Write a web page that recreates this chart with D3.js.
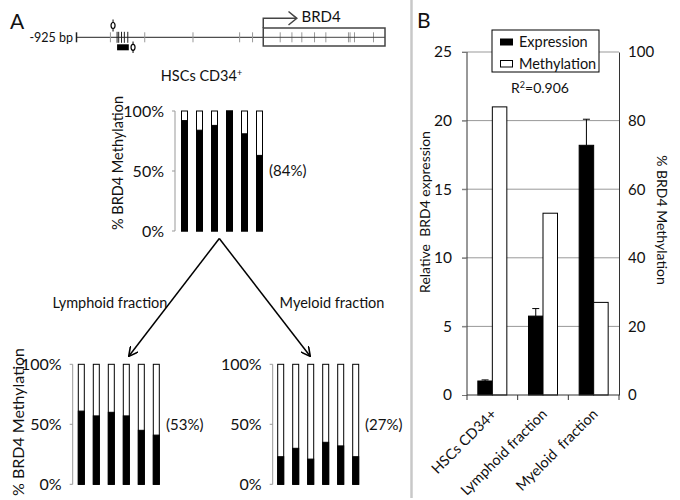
<!DOCTYPE html>
<html><head><meta charset="utf-8">
<script src="https://cdn.jsdelivr.net/npm/d3@7"></script>
<style>
body{margin:0;background:#fff;}
svg{display:block;font-family:Lato,"Open Sans",sans-serif;fill:#111;}
</style></head>
<body><svg id="c" width="680" height="500"></svg>
<script>
// ---------- data ----------
const hscMeth = [92, 84, 88, 100, 81, 63];
const lymphMeth = [61, 57, 60, 57, 45, 41];
const myeloMeth = [23, 30, 21, 35, 32, 23];
const pctTicks = [0, 50, 100];
const categories = ["HSCs CD34+", "Lymphoid fraction", "Myeloid  fraction"];
const expression = [1.02, 5.75, 18.2];
const expressionErr = [0.08, 0.55, 1.9];
const methylation = [84, 53, 27];
const leftTicks = [0, 5, 10, 15, 20, 25];
const rightTicks = [0, 20, 40, 60, 80, 100];
// gene map (bp relative to TSS)
const cpgGray = [-757, -587, -348, -117, -53, 84, 142, 191, 254, 310, 422, 430, 452, 546];
const cpgBlack = [-724, -716, -702, -688, -671];
const amplicon = [-724, -666];
const primers = [-744, -645];
const geneExtent = [-925, 0, 603];

const svg = d3.select("#c");

// ---------- panel letters ----------
svg.append("text").attr("x", 10).attr("y", 29).attr("font-size", 21).text("A");
svg.append("text").attr("x", 417).attr("y", 28).attr("font-size", 21).text("B");

// separator
svg.append("line").attr("x1", 411.5).attr("x2", 411.5).attr("y1", 0).attr("y2", 498)
  .attr("stroke", "#c8c8c8").attr("stroke-width", 2.5);

// ---------- gene map ----------
const gx = d3.scaleLinear().domain([geneExtent[0], geneExtent[2]]).range([76.5, 385]);
const gy = 37.3;
const gm = svg.append("g");
gm.append("text").attr("x", 73).attr("y", gy).attr("dy", "0.35em").attr("text-anchor", "end")
  .attr("font-size", 12.5).text("-925 bp");
gm.append("line").attr("x1", gx(-925)).attr("x2", gx(0)).attr("y1", gy).attr("y2", gy).attr("stroke", "#222");
gm.append("line").attr("x1", gx(-925)).attr("x2", gx(-925)).attr("y1", gy - 5).attr("y2", gy + 5).attr("stroke", "#222").attr("stroke-width", 1.5);
gm.selectAll(".cg").data(cpgGray).join("line")
  .attr("x1", d => gx(d)).attr("x2", d => gx(d)).attr("y1", gy - 5).attr("y2", gy + 5)
  .attr("stroke", "#999");
gm.selectAll(".cb").data(cpgBlack).join("line")
  .attr("x1", d => gx(d)).attr("x2", d => gx(d)).attr("y1", gy - 5.5).attr("y2", gy + 5.5)
  .attr("stroke", "#222");
gm.append("rect").attr("x", gx(0)).attr("y", 28).attr("width", gx(603) - gx(0)).attr("height", 18)
  .attr("fill", "none").attr("stroke", "#444").attr("stroke-width", 1.5);
gm.append("line").attr("x1", gx(0)).attr("x2", gx(603)).attr("y1", gy).attr("y2", gy).attr("stroke", "#444");
// TSS arrow
gm.append("path").attr("d", `M${gx(0)},28 V18.3 H296.5`).attr("fill", "none").attr("stroke", "#444").attr("stroke-width", 1.5);
gm.append("path").attr("d", "M288.5,11.5 L296.8,18.3 L288.5,25").attr("fill", "none").attr("stroke", "#444").attr("stroke-width", 1.5);
gm.append("text").attr("x", 301.5).attr("y", 22).attr("font-size", 15).text("BRD4");
// amplicon
gm.append("rect").attr("x", gx(amplicon[0])).attr("y", 44.3).attr("width", gx(amplicon[1]) - gx(amplicon[0])).attr("height", 6).attr("fill", "#000");
// primers
[[primers[0], 25.5, 19.5, 31.5], [primers[1], 47.3, 41.5, 53]].forEach(([p, cy, y1, y2]) => {
  gm.append("line").attr("x1", gx(p)).attr("x2", gx(p)).attr("y1", y1).attr("y2", y2).attr("stroke", "#000");
  gm.append("ellipse").attr("cx", gx(p)).attr("cy", cy).attr("rx", 2).attr("ry", 3).attr("fill", "#fff").attr("stroke", "#000").attr("stroke-width", 1.2);
});

// ---------- small stacked methylation charts ----------
function smallChart(vals, axisX, y0, y1, x0, labelFs, labelX, labelY, pctLabel, pctX, showLabel) {
  const g = svg.append("g");
  const y = d3.scaleLinear().domain([0, 100]).range([y0, y1]);
  const x = d3.scaleBand().domain(d3.range(vals.length)).range([x0, x0 + 90]).paddingInner(0);
  const bw = 6;
  g.append("line").attr("x1", axisX).attr("x2", axisX).attr("y1", y(0)).attr("y2", y(100)).attr("stroke", "#999");
  g.selectAll(".tk").data(pctTicks).join("line")
    .attr("x1", axisX - 3).attr("x2", axisX).attr("y1", d => y(d)).attr("y2", d => y(d)).attr("stroke", "#999");
  g.selectAll(".tl").data(pctTicks).join("text")
    .attr("x", axisX - 11).attr("y", d => y(d)).attr("dy", "0.36em").attr("text-anchor", "end")
    .attr("font-size", 16).text(d => d + "%");
  const bars = g.selectAll(".b").data(vals).join("g");
  bars.append("rect").attr("x", (d, i) => x(i) + x.bandwidth() / 2 - bw / 2).attr("width", bw)
    .attr("y", y(100)).attr("height", y(0) - y(100)).attr("fill", "#fff").attr("stroke", "#000").attr("stroke-width", 1);
  bars.append("rect").attr("x", (d, i) => x(i) + x.bandwidth() / 2 - bw / 2).attr("width", bw)
    .attr("y", d => y(d)).attr("height", d => y(0) - y(d)).attr("fill", "#000").attr("stroke", "#000").attr("stroke-width", 1);
  if (showLabel) {
    g.append("text").attr("transform", `translate(${labelX},${labelY}) rotate(-90)`).attr("text-anchor", "middle")
      .attr("dy", "0.35em").attr("font-size", labelFs).text("% BRD4 Methylation");
  }
  g.append("text").attr("x", pctX).attr("y", y(50)).attr("dy", "0.36em").attr("font-size", 15).text(pctLabel);
}
smallChart(hscMeth, 175, 231, 111, 177, 14.5, 118, 163, "(84%)", 269, true);
smallChart(lymphMeth, 72.7, 484.3, 364.3, 73.8, 16, 18, 422, "(53%)", 166, true);
smallChart(myeloMeth, 272.7, 484.3, 364.3, 273.2, 16, 0, 0, "(27%)", 365, false);

// title HSCs
const t = svg.append("text").attr("x", 201.5).attr("y", 81).attr("text-anchor", "middle").attr("font-size", 14.5);
t.append("tspan").text("HSCs CD34");
t.append("tspan").attr("font-size", 9).attr("dy", -5).text("+");

// arrows
const apex = [219.3, 238.5];
const tips = [[129, 356], [310, 356]];
svg.append("defs").append("marker").attr("id", "ah").attr("viewBox", "0 0 10 10").attr("refX", 9).attr("refY", 5)
  .attr("markerWidth", 10).attr("markerHeight", 10).attr("markerUnits", "userSpaceOnUse").attr("orient", "auto")
  .append("path").attr("d", "M0,0 L9.5,5 L0,10").attr("fill", "none").attr("stroke", "#000").attr("stroke-width", 1.6);
tips.forEach(tp => {
  svg.append("line").attr("x1", apex[0]).attr("y1", apex[1]).attr("x2", tp[0]).attr("y2", tp[1])
    .attr("stroke", "#000").attr("stroke-width", 1.5).attr("marker-end", "url(#ah)");
});
svg.append("text").attr("x", 110).attr("y", 308).attr("text-anchor", "middle").attr("font-size", 14.5).text("Lymphoid fraction");
svg.append("text").attr("x", 332).attr("y", 308).attr("text-anchor", "middle").attr("font-size", 14.5).text("Myeloid fraction");

// ---------- panel B ----------
const bx = d3.scaleBand().domain(categories).range([467, 619]).paddingInner(0);
const yl = d3.scaleLinear().domain([0, 25]).range([395, 52]);
const yr = d3.scaleLinear().domain([0, 100]).range([395, 52]);
const B = svg.append("g");
// gridlines
B.selectAll(".gl").data(leftTicks.filter(d => d > 0)).join("line")
  .attr("x1", 462).attr("x2", 619).attr("y1", d => yl(d)).attr("y2", d => yl(d)).attr("stroke", "#999");
// left axis
const la = B.append("g").attr("transform", "translate(467,0)")
  .call(d3.axisLeft(yl).tickValues(leftTicks).tickSize(5).tickPadding(10));
la.select(".domain").attr("stroke", "#333").attr("d", `M0,${yl(0)}V${yl(25)}`);
la.selectAll(".tick line").attr("stroke", "#777");
la.selectAll("text").attr("font-size", 15.5).attr("font-family", "Lato").attr("fill", "#111");
// right axis
const ra = B.append("g").attr("transform", "translate(619,0)")
  .call(d3.axisRight(yr).tickValues(rightTicks).tickSize(0).tickPadding(9));
ra.select(".domain").attr("stroke", "#333");
ra.selectAll("text").attr("font-size", 15).attr("font-family", "Lato").attr("fill", "#111");
// error bars
const bw2 = 14.5;
B.selectAll(".err").data(categories).join("g").each(function(d, i) {
  const cx = bx(d) + bx.bandwidth() / 2 - bw2 / 2;
  const g = d3.select(this);
  g.append("line").attr("x1", cx).attr("x2", cx).attr("y1", yl(expression[i])).attr("y2", yl(expression[i] + expressionErr[i])).attr("stroke", "#000");
  g.append("line").attr("x1", cx - 3.5).attr("x2", cx + 3.5).attr("y1", yl(expression[i] + expressionErr[i])).attr("y2", yl(expression[i] + expressionErr[i])).attr("stroke", "#000");
});
// bars
B.selectAll(".ex").data(categories).join("rect")
  .attr("x", d => bx(d) + bx.bandwidth() / 2 - bw2).attr("width", bw2)
  .attr("y", (d, i) => yl(expression[i])).attr("height", (d, i) => yl(0) - yl(expression[i]))
  .attr("fill", "#000").attr("stroke", "#000");
B.selectAll(".me").data(categories).join("rect")
  .attr("x", d => bx(d) + bx.bandwidth() / 2).attr("width", bw2)
  .attr("y", (d, i) => yr(methylation[i])).attr("height", (d, i) => yr(0) - yr(methylation[i]))
  .attr("fill", "#fff").attr("stroke", "#000");
// bottom axis
const ba = B.append("g").attr("transform", "translate(0,395)");
ba.append("line").attr("x1", 467).attr("x2", 619).attr("stroke", "#333");
ba.selectAll(".bt").data([467, ...categories.map(c => bx(c) + bx.bandwidth())]).join("line")
  .attr("x1", d => d).attr("x2", d => d).attr("y1", 0).attr("y2", 5).attr("stroke", "#333");
ba.selectAll(".bl").data(categories).join("text")
  .attr("transform", d => `translate(${bx(d) + bx.bandwidth() / 2 + 5},${20}) rotate(-45)`)
  .attr("text-anchor", "end").attr("font-size", 14.5).style("white-space", "pre").text(d => d);
// axis titles
B.append("text").attr("transform", "translate(425,212) rotate(-90)").attr("text-anchor", "middle").attr("dy", "0.35em")
  .attr("font-size", 14).style("white-space", "pre").text("Relative  BRD4 expression");
B.append("text").attr("transform", "translate(662,220) rotate(90)").attr("text-anchor", "middle").attr("dy", "0.35em")
  .attr("font-size", 14).text("% BRD4 Methylation");
// legend
const lg = B.append("g");
lg.append("rect").attr("x", 492).attr("y", 30).attr("width", 107).attr("height", 42).attr("fill", "#fff").attr("stroke", "#000");
lg.append("rect").attr("x", 500).attr("y", 38.5).attr("width", 13).attr("height", 7).attr("fill", "#000");
lg.append("rect").attr("x", 500.5).attr("y", 60.5).attr("width", 12).attr("height", 6.5).attr("fill", "#fff").attr("stroke", "#000");
lg.append("text").attr("x", 519).attr("y", 46.5).attr("font-size", 14.5).text("Expression");
lg.append("text").attr("x", 519).attr("y", 68.5).attr("font-size", 14.5).text("Methylation");
const r2 = B.append("text").attr("x", 540).attr("y", 93).attr("text-anchor", "middle").attr("font-size", 14);
r2.append("tspan").text("R");
r2.append("tspan").attr("font-size", 9).attr("dy", -5).text("2");
r2.append("tspan").attr("dy", 5).text("=0.906");
</script></body></html>
